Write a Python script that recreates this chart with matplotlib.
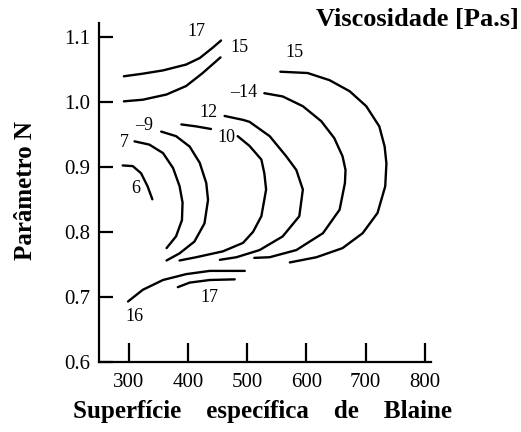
import matplotlib
matplotlib.use("Agg")
import matplotlib.pyplot as plt
import numpy as np

plt.rcParams['font.family'] = ['Liberation Serif', 'DejaVu Serif']

# contour lines: (Blaine surface, parameter N)
c17_top_x = [292, 324, 358, 397, 420, 442, 456]
c17_top_y = [1.039, 1.043, 1.048, 1.057, 1.067, 1.083, 1.094]
c15_top_x = [292, 324, 364, 397, 425, 455]
c15_top_y = [1.0005, 1.003, 1.011, 1.024, 1.044, 1.068]
c15_x = [556, 602, 639, 673, 701, 723, 732, 735, 733, 720, 695, 661, 617, 572]
c15_y = [1.046, 1.044, 1.033, 1.016, 0.993, 0.962, 0.931, 0.905, 0.870, 0.829, 0.798, 0.775, 0.761, 0.753]
c14_x = [529, 560, 594, 625, 647, 661, 666, 665, 656, 628, 583, 538, 512]
c14_y = [1.013, 1.008, 0.993, 0.970, 0.944, 0.916, 0.895, 0.875, 0.834, 0.798, 0.772, 0.761, 0.760]
c12_x = [462, 493, 504, 538, 566, 583, 594, 588, 560, 521, 482, 454]
c12_y = [0.978, 0.972, 0.969, 0.947, 0.916, 0.895, 0.865, 0.824, 0.793, 0.772, 0.761, 0.757]
c10_x = [484, 504, 524, 529, 532, 524, 510, 493, 459, 414, 386]
c10_y = [0.947, 0.932, 0.911, 0.890, 0.865, 0.824, 0.800, 0.783, 0.770, 0.761, 0.756]
c10_dash_x = [389, 414, 439]
c10_dash_y = [0.965, 0.962, 0.958]
c9_x = [355, 380, 403, 420, 431, 434, 428, 411, 386, 364]
c9_y = [0.954, 0.947, 0.931, 0.906, 0.875, 0.849, 0.813, 0.785, 0.767, 0.756]
c7_x = [310, 335, 358, 375, 386, 391, 390, 380, 364]
c7_y = [0.939, 0.934, 0.921, 0.898, 0.870, 0.845, 0.818, 0.793, 0.775]
c6_x = [290, 307, 321, 332, 340]
c6_y = [0.902, 0.901, 0.890, 0.870, 0.850]
c16_x = [299, 324, 358, 397, 437, 496]
c16_y = [0.693, 0.711, 0.726, 0.735, 0.740, 0.740]
c17_low_x = [383, 403, 437, 479]
c17_low_y = [0.715, 0.722, 0.726, 0.727]

curves = [(c17_top_x, c17_top_y), (c15_top_x, c15_top_y), (c15_x, c15_y),
          (c14_x, c14_y), (c12_x, c12_y), (c10_x, c10_y), (c10_dash_x, c10_dash_y),
          (c9_x, c9_y), (c7_x, c7_y), (c6_x, c6_y), (c16_x, c16_y),
          (c17_low_x, c17_low_y)]

# contour labels
lab_text = ["17", "15", "15", "\u201314", "12", "10", "\u20139", "7", "6", "16", "17"]
lab_x = [415, 487, 580, 494, 434, 465, 327, 293, 312, 310, 437]
lab_y = [1.108, 1.083, 1.075, 1.014, 0.983, 0.945, 0.963, 0.937, 0.866, 0.670, 0.699]

xticks = [300, 400, 500, 600, 700, 800]
yticks = [0.6, 0.7, 0.8, 0.9, 1.0, 1.1]

fig = plt.figure(figsize=(5.21, 4.32), dpi=100)
ax = fig.add_axes([0.190, 0.162, 0.637, 0.785])

for cx, cy in curves:
    ax.plot(cx, cy, color="k", lw=1.7, solid_capstyle="round", solid_joinstyle="round")

for t, lx, ly in zip(lab_text, lab_x, lab_y):
    ax.text(lx, ly, t, fontsize=13, ha="center", va="center")

ax.set_xlim(250, 810)
ax.set_ylim(0.6, 1.121)
ax.set_xticks(xticks)
ax.set_yticks(yticks)
ax.set_yticklabels([f"{v:.1f}" for v in yticks])
ax.spines["top"].set_visible(False)
ax.spines["right"].set_visible(False)
ax.spines["left"].set_linewidth(1.6)
ax.spines["bottom"].set_linewidth(1.6)
ax.tick_params(axis="y", direction="in", length=10, width=1.6, labelsize=15, pad=6)
ax.tick_params(axis="x", direction="in", length=14, width=1.6, labelsize=15, pad=8)

fig.text(0.503, 0.047, "Superfície    específica    de    Blaine", fontsize=18,
         fontweight="bold", ha="center", va="center")
fig.text(0.048, 0.558, "Parâmetro N", fontsize=18, fontweight="bold",
         rotation=90, ha="center", va="center")
fig.text(0.995, 0.955, "Viscosidade [Pa.s]", fontsize=19, fontweight="bold",
         ha="right", va="center")

fig.savefig("out.png", dpi=100)
